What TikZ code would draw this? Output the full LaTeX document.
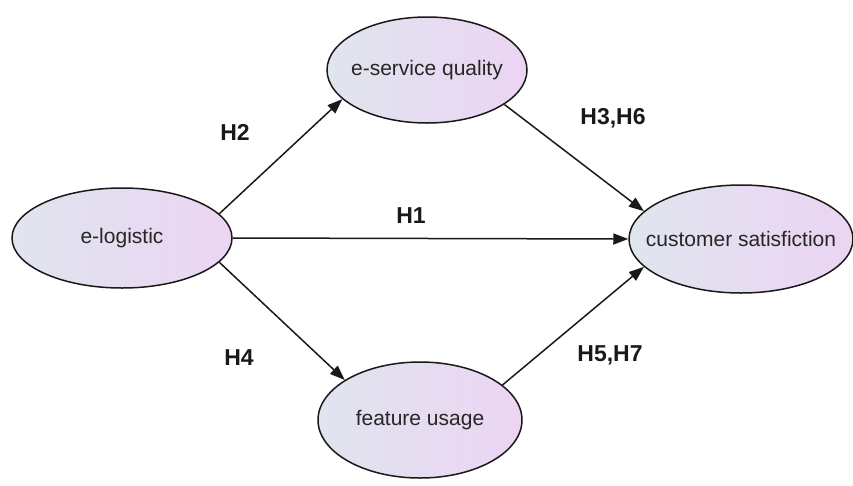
\documentclass[tikz,border=0pt]{standalone}
\usepackage{fontspec}
\setmainfont{Liberation Sans}
\usetikzlibrary{shapes.geometric,arrows.meta}
\definecolor{lcol}{RGB}{224,229,238}
\definecolor{rcol}{RGB}{236,212,243}
\definecolor{edge}{RGB}{25,25,25}
\tikzset{
  var/.style={ellipse, draw=edge, line width=1.5pt, inner sep=0pt,
    left color=lcol, right color=rcol},
  vartext/.style={font=\fontsize{21}{24}\selectfont, text=black!85, inner sep=0pt},
  link/.style={draw=edge, line width=1.5pt, -{Triangle[length=15pt,width=11pt]}},
  hyp/.style={font=\bfseries\fontsize{23}{26}\selectfont, text=black!90}
}
\begin{document}
\begin{tikzpicture}[x=1pt,y=-1pt]
\useasboundingbox (0,0) rectangle (853,485);
\node[var, minimum width=220pt, minimum height=100pt,
  label={[vartext]center:e-logistic}] (elog) at (122,238) {};
\node[var, minimum width=200pt, minimum height=106pt,
  label={[vartext]center:e-service quality}] (eserv) at (427,70) {};
\node[var, minimum width=224pt, minimum height=108pt,
  label={[vartext]center:customer satisfiction}] (cust) at (741,239) {};
\node[var, minimum width=204pt, minimum height=116pt,
  label={[vartext]center:feature usage}] (feat) at (420,420) {};
\draw[link] (elog.14) -- (eserv.199);
\draw[link] (elog.0) -- (cust.180);
\draw[link] (eserv.336) -- (cust.164);
\draw[link] (elog.346) -- (feat.152);
\draw[link] (feat.23) -- (cust.196);
\node[hyp] (h2) at (235,132) {H2};
\node[hyp] (h36) at (613,118) {H3,H6};
\node[hyp] (h1) at (411,216) {H1};
\node[hyp] (h4) at (239,358) {H4};
\node[hyp] (h57) at (610,355) {H5,H7};
\end{tikzpicture}
\end{document}
